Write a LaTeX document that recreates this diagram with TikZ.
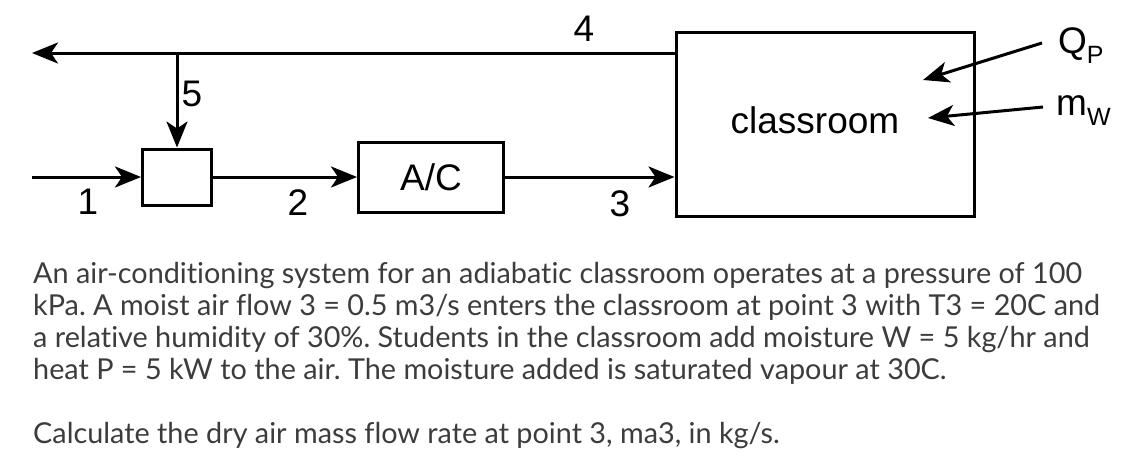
\documentclass[tikz,border=0pt]{standalone}
\usepackage{fontspec}
\setmainfont{Lato}[Ligatures=NoCommon]
\newfontfamily\arial{Liberation Sans}
\usetikzlibrary{arrows.meta, positioning}
\definecolor{bodygray}{RGB}{58,60,62}
\frenchspacing
\newcommand{\lowsub}[1]{\raisebox{-10pt}{\fontsize{25}{25}\selectfont #1}}
\tikzset{
  unit/.style={draw, line width=3pt, inner sep=0pt},
  flow/.style={line width=3pt, -{Stealth[length=26pt, width=21pt, inset=7pt]}},
  num/.style={font=\arial\fontsize{37}{37}\selectfont, inner sep=0pt},
  sym/.style={font=\arial\fontsize{37}{37}\selectfont, inner sep=0pt, anchor=base west},
}

\begin{document}
\begin{tikzpicture}[x=1pt, y=-1pt]
\useasboundingbox (0,0) rectangle (1128,464);

\coordinate (in1) at (32,177);
\coordinate (exit4) at (32,53);
\coordinate (tee5) at (177,53);
\coordinate (qfrom) at (1042,43);
\coordinate (qto) at (923,80);
\coordinate (wfrom) at (1043,107);
\coordinate (wto) at (928,118);

\node[unit, minimum width=69pt, minimum height=56pt] (mixer) at (177,177) {};
\node[unit, num, minimum width=145pt, minimum height=70pt] (ac) at (431,177) {A/C};
\node[unit, minimum width=298pt, minimum height=184pt] (room) at (825,124) {};
\node[num] (roomlabel) at (815,120) {classroom};

\draw[flow] (in1) -- (mixer.west);
\draw[flow] (mixer.east) -- (ac.west);
\draw[flow] (ac.east) -- (ac.east -| room.west);
\draw[flow] (room.west |- tee5) -- (exit4);
\draw[flow] (tee5) -- (mixer.north);
\draw[flow] (qfrom) -- (qto);
\draw[flow] (wfrom) -- (wto);

\node[num] (n1) at (88,202) {1};
\node[num] (n2) at (298,203) {2};
\node[num] (n3) at (620,204) {3};
\node[num] (n4) at (584,29) {4};
\node[num] (n5) at (192,94) {5};
\node[sym] (qlabel) at (1058,53) {Q\lowsub{P}};
\node[sym] (mlabel) at (1056,115) {m\lowsub{W}};

\node[anchor=north west, align=left, inner sep=0pt, text=bodygray,
  font=\fontsize{28.8}{32}\selectfont] (problem) at (33,262)
  {An air-conditioning system for an adiabatic classroom operates at a pressure of 100\\
   kPa. A moist air flow 3 = 0.5 m3/s enters the classroom at point 3 with T3 = 20C and\\
   a relative humidity of 30\%. Students in the classroom add moisture W = 5 kg/hr and\\
   heat P = 5 kW to the air. The moisture added is saturated vapour at 30C.\\[32pt]
   Calculate the dry air mass flow rate at point 3, ma3, in kg/s.};
\end{tikzpicture}
\end{document}
